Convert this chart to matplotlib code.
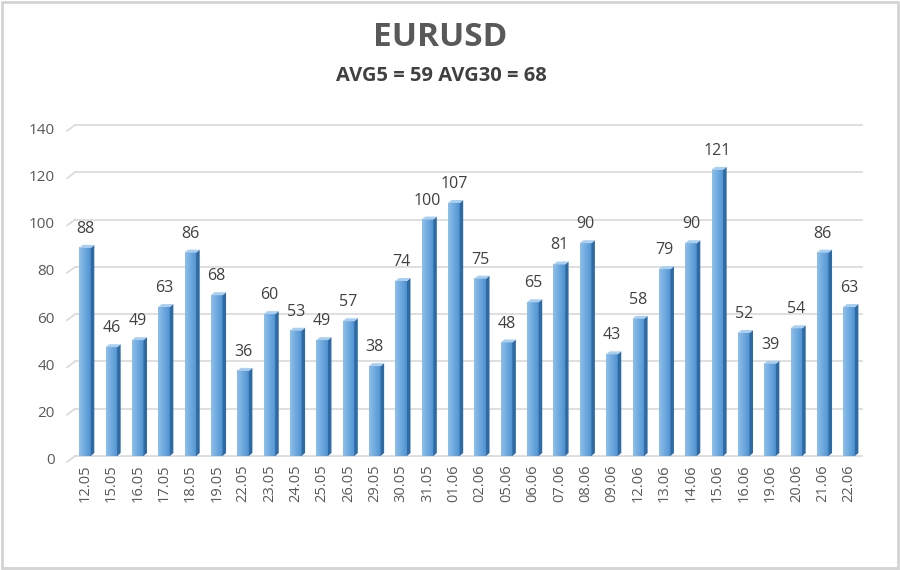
import matplotlib
matplotlib.use("Agg")
import matplotlib.pyplot as plt
from matplotlib.patches import Rectangle, Polygon
import numpy as np

# data
dates = ['12.05', '15.05', '16.05', '17.05', '18.05', '19.05', '22.05', '23.05',
         '24.05', '25.05', '26.05', '29.05', '30.05', '31.05', '01.06', '02.06',
         '05.06', '06.06', '07.06', '08.06', '09.06', '12.06', '13.06', '14.06',
         '15.06', '16.06', '19.06', '20.06', '21.06', '22.06']
values = [88, 46, 49, 63, 86, 68, 36, 60, 53, 49, 57, 38, 74, 100, 107, 75,
          48, 65, 81, 90, 43, 58, 79, 90, 121, 52, 39, 54, 86, 63]
yticks = [0, 20, 40, 60, 80, 100, 120, 140]

plt.rcParams['font.family'] = ['Open Sans', 'DejaVu Sans']

W, H = 900, 570
fig = plt.figure(figsize=(W / 100, H / 100), dpi=100)
fig.patch.set_facecolor('white')

# outer light frame
fig.patches.append(Rectangle((2 / W, 2 / H), 1 - 4 / W, 1 - 4 / H, transform=fig.transFigure,
                             fill=False, edgecolor='#D4D4D4', linewidth=2))

ax = fig.add_axes([75 / W, 1 - 456 / H, (862 - 75) / W, (456 - 125) / H])
ax.axis('off')

px_x = 1 / 26.34      # one pixel in data x
px_y = 140 / 331      # one pixel in data y

# gridlines with small slanted tail on the left (3D look)
for t in yticks:
    ax.plot([-0.38, 29.49], [t, t], color='#D9D9D9', lw=1.2, clip_on=False, zorder=1)
    ax.plot([-0.38 - 8 * px_x, -0.38], [t - 6 * px_y, t], color='#D9D9D9', lw=1.2,
            clip_on=False, zorder=1)
    ax.text(-0.38 - 20 * px_x, t - 5 * px_y, str(t), ha='right', va='center',
            fontsize=11, color='#595959')

cmap = matplotlib.colors.LinearSegmentedColormap.from_list('b', ['#8DBFEA', '#4F93D2'])
x = np.arange(len(values))
bw = 0.44
side = 3.5 * px_x
lift = 3 * px_y
for xi, v in zip(x, values):
    x0 = xi - bw / 2
    # front face with a simple horizontal gradient
    grad = np.linspace(0, 1, 32).reshape(1, -1)
    ax.imshow(grad, extent=[x0, x0 + bw, 0, v], aspect='auto', cmap=cmap,
              zorder=3, interpolation='bilinear')
    # side face
    ax.add_patch(Polygon([[x0 + bw, 0], [x0 + bw + side, lift], [x0 + bw + side, v + lift],
                          [x0 + bw, v]], closed=True, facecolor='#2F6AA3', edgecolor='none', zorder=3))
    # top face
    ax.add_patch(Polygon([[x0, v], [x0 + side, v + lift], [x0 + bw + side, v + lift],
                          [x0 + bw, v]], closed=True, facecolor='#A9CFF0', edgecolor='none', zorder=3))
    ax.text(xi, v + 11 * px_y, str(v), ha='center', va='bottom', fontsize=11.5, color='#404040', zorder=4)
    ax.text(xi, -8 * px_y, dates[xi], ha='center', va='top', rotation=90,
            fontsize=10.5, color='#595959')

ax.set_xlim(-0.38, 29.49)
ax.set_ylim(0, 140)

fig.text(440 / W, 1 - 38 / H, 'EURUSD', ha='center', va='center', fontsize=24,
         fontweight='bold', color='#595959')
fig.text(441 / W, 1 - 76 / H, 'AVG5 = 59 AVG30 = 68', ha='center', va='center',
         fontsize=14.5, fontweight='bold', color='#404040')

fig.savefig('out.png', dpi=100, facecolor='white')
